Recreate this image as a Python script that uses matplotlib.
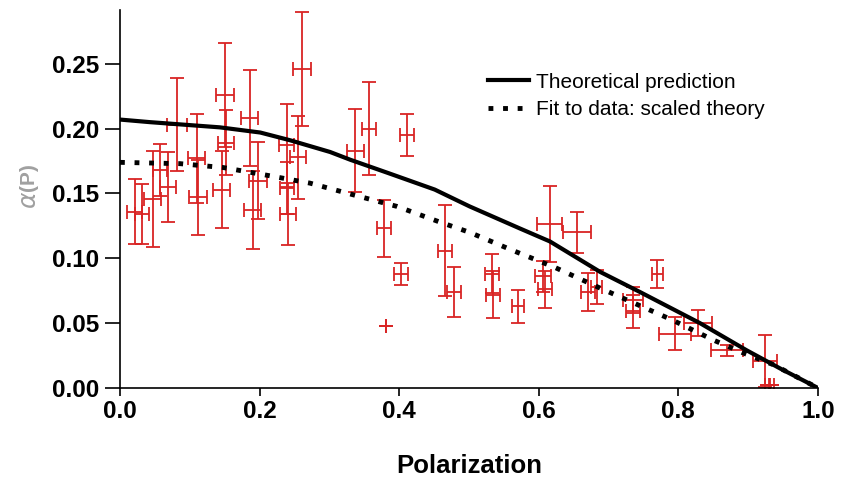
import matplotlib
matplotlib.use("Agg")
import matplotlib.pyplot as plt
from matplotlib.lines import Line2D

# ---- data ----
# Theoretical prediction curve (polarization, alpha)
theory_P = [0.0, 0.043, 0.143, 0.201, 0.244, 0.301, 0.330, 0.383, 0.451, 0.501,
            0.573, 0.616, 0.688, 0.745, 0.831, 0.898, 0.946, 1.0]
theory_a = [0.207, 0.205, 0.201, 0.197, 0.191, 0.182, 0.176, 0.166, 0.153, 0.140,
            0.123, 0.113, 0.0895, 0.074, 0.050, 0.029, 0.015, 0.0]

# Fit to data: scaled theory
fit_P = [0.0, 0.086, 0.148, 0.211, 0.272, 0.334, 0.397, 0.458, 0.501, 0.563,
         0.623, 0.688, 0.749, 0.791, 0.850, 0.893, 0.936, 1.0]
fit_a = [0.174, 0.173, 0.170, 0.164, 0.158, 0.149, 0.140, 0.128, 0.120, 0.106,
         0.093, 0.077, 0.0625, 0.0525, 0.037, 0.027, 0.018, 0.0]

# Measured points: polarization, alpha, x error, y error
pol = [0.021, 0.032, 0.047, 0.057, 0.069, 0.082, 0.110, 0.112, 0.146, 0.150,
       0.152, 0.186, 0.198, 0.190, 0.239, 0.240, 0.241, 0.255, 0.261,
       0.337, 0.357, 0.378, 0.381, 0.402, 0.411, 0.466, 0.478,
       0.533, 0.534, 0.570, 0.606, 0.609, 0.616, 0.655, 0.670, 0.683,
       0.735, 0.735, 0.770, 0.795, 0.828, 0.870, 0.924, 0.927, 0.934]
alpha = [0.136, 0.134, 0.146, 0.168, 0.155, 0.203, 0.177, 0.147, 0.153, 0.226,
         0.189, 0.208, 0.160, 0.137, 0.187, 0.154, 0.134, 0.178, 0.246,
         0.183, 0.200, 0.123, 0.048, 0.088, 0.195, 0.106, 0.074,
         0.088, 0.072, 0.063, 0.086, 0.076, 0.1265, 0.120, 0.074, 0.078,
         0.068, 0.059, 0.088, 0.042, 0.050, 0.029, 0.021, 0.002, 0.002]
pol_err = [0.011, 0.010, 0.012, 0.010, 0.011, 0.014, 0.012, 0.013, 0.012, 0.013,
           0.012, 0.012, 0.013, 0.012, 0.011, 0.010, 0.011, 0.012, 0.013,
           0.012, 0.010, 0.010, 0.0, 0.010, 0.010, 0.010, 0.010,
           0.010, 0.010, 0.009, 0.012, 0.010, 0.018, 0.020, 0.010, 0.008,
           0.015, 0.010, 0.008, 0.023, 0.020, 0.023, 0.017, 0.003, 0.003]
alpha_err = [0.025, 0.023, 0.037, 0.020, 0.027, 0.036, 0.034, 0.029, 0.030, 0.040,
             0.025, 0.037, 0.030, 0.030, 0.032, 0.020, 0.024, 0.032, 0.044,
             0.032, 0.036, 0.022, 0.0, 0.0085, 0.016, 0.035, 0.019,
             0.015, 0.018, 0.0127, 0.012, 0.014, 0.029, 0.016, 0.0145, 0.013,
             0.010, 0.013, 0.011, 0.0125, 0.010, 0.0045, 0.020, 0.0, 0.0]

x_ticks = [0.0, 0.2, 0.4, 0.6, 0.8, 1.0]
y_ticks = [0.00, 0.05, 0.10, 0.15, 0.20, 0.25]
legend_labels = ["Theoretical prediction", "Fit to data: scaled theory"]

# ---- figure ----
plt.rcParams['font.family'] = ['Liberation Sans', 'DejaVu Sans']
fig = plt.figure(figsize=(8.43, 4.80), dpi=100)
ax = fig.add_axes([0.1423, 0.1917, 0.828, 0.7875])

red = '#d92424'
ax.errorbar(pol, alpha, xerr=pol_err, yerr=alpha_err, fmt='none',
            ecolor=red, elinewidth=1.3, capsize=5, capthick=1.3, zorder=2)

ax.plot(theory_P, theory_a, color='black', lw=3.0, solid_capstyle='butt', zorder=3)
ax.plot(fit_P, fit_a, color='black', lw=3.5, linestyle=(0, (1, 2)), zorder=3)

ax.set_xlim(0, 1.0)
ax.set_ylim(0, 0.2915)
ax.set_xticks(x_ticks)
ax.set_xticklabels([f"{t:.1f}" for t in x_ticks])
ax.set_yticks(y_ticks)
ax.set_yticklabels([f"{t:.2f}" for t in y_ticks])

for s in ['top', 'right']:
    ax.spines[s].set_visible(False)
for s in ['left', 'bottom']:
    ax.spines[s].set_linewidth(1.2)

ax.tick_params(axis='y', direction='out', length=11, width=1.2, pad=4, labelsize=17.5)
ax.tick_params(axis='x', direction='out', length=6, width=1.2, pad=3, labelsize=17.5)
for lab in ax.get_xticklabels() + ax.get_yticklabels():
    lab.set_fontweight('bold')

ax.set_xlabel("Polarization", fontsize=18.5, fontweight='bold', labelpad=22)
fig.text(0.034, 0.583, r"$\alpha$", rotation=90, color='#a0a0a0', fontsize=18,
         ha='center', va='center')
fig.text(0.034, 0.632, "(P)", rotation=90, color='#a0a0a0', fontsize=15,
         fontweight='bold', ha='center', va='center')

handles = [Line2D([], [], color='black', lw=3.0),
           Line2D([], [], color='black', lw=3.5, linestyle=(0, (1, 2)))]
ax.legend(handles, legend_labels, loc='upper left', bbox_to_anchor=(0.512, 0.862),
          frameon=False, fontsize=15, handlelength=2.0, handletextpad=0.33,
          labelspacing=0.42, borderpad=0)

fig.savefig("out.png", dpi=100)
